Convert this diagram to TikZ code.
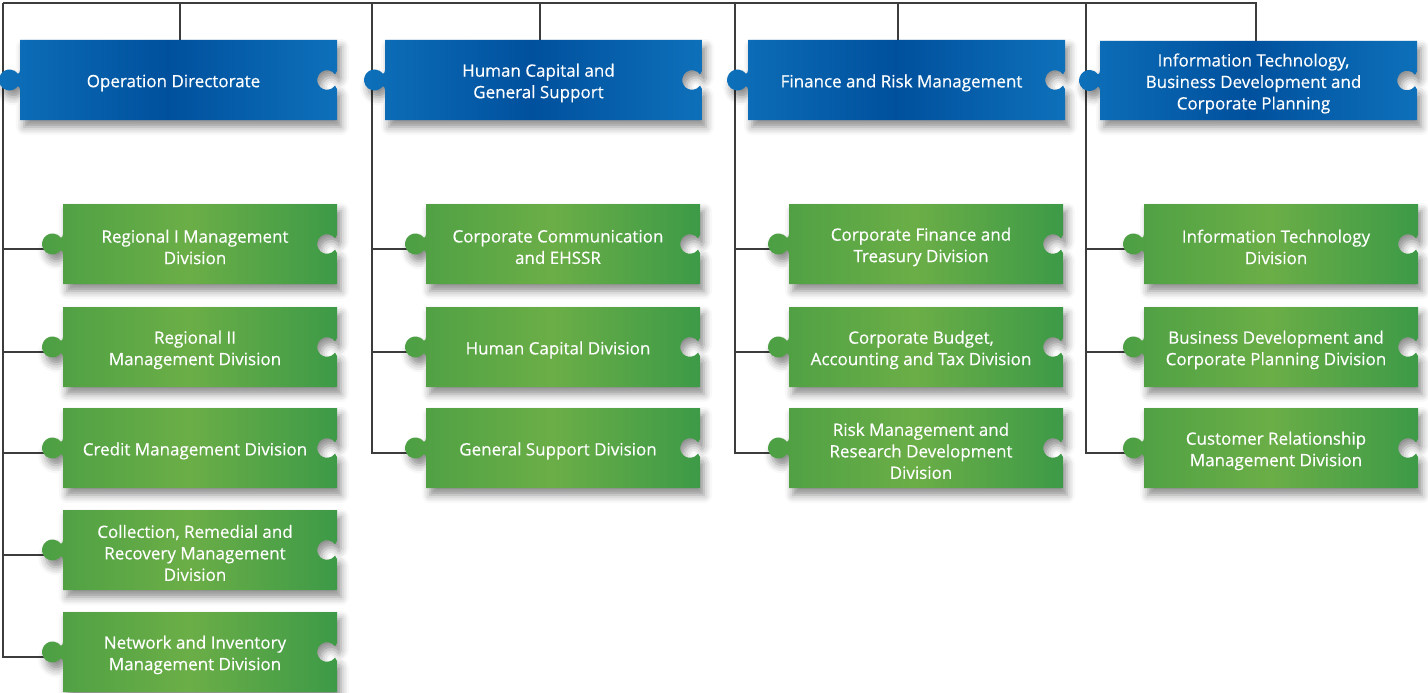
\documentclass[tikz,border=0pt]{standalone}
\usepackage{fontspec}
\setmainfont{Open Sans}
\newfontfamily\piecefont{Open Sans}[FakeBold=0.4]
\usetikzlibrary{shadows.blur}
\pgfdeclarelayer{background}
\pgfsetlayers{background,main}

\definecolor{linegray}{HTML}{3C3C3C}
\definecolor{blueedge}{HTML}{0E70BA}
\definecolor{bluemid}{HTML}{00509D}
\definecolor{greenleft}{HTML}{4C9F44}
\definecolor{greenmid}{HTML}{6BAE47}
\definecolor{greenright}{HTML}{3D9A47}

\tikzset{
  piecebase/.style={blur shadow={shadow xshift=4pt, shadow yshift=-7pt,
      shadow blur radius=8pt, shadow opacity=45}},
  bluepiece/.style={piecebase, left color=blueedge, right color=blueedge, middle color=bluemid},
  greenpiece/.style={piecebase, left color=greenleft, right color=greenright, middle color=greenmid},
  piecetext/.style={inner sep=0pt, align=center, text=white,
      font=\piecefont\fontsize{17}{21.5}\selectfont},
  link/.style={draw=linegray, line width=2pt},
}

% #1 name, #2 left, #3 top, #4 right, #5 bottom, #6 style, #7 text
% a round knob sticks out on the left, a round socket is cut into the right
\newcommand\puzzlepiece[7]{%
  \pgfmathsetmacro\pcy{(#3+#5)/2}%
  \path[#6] (#2,#3) -- (#4,#3) -- (#4,\pcy-9)
    .. controls ({#4-0.5},\pcy-6.5) .. ({#4-2},\pcy-5.66)
    arc[start angle=-35.3, end angle=-324.7, radius=9.8]
    .. controls ({#4-0.5},\pcy+6.5) .. (#4,\pcy+9)
    -- (#4,#5) -- (#2,#5) -- (#2,\pcy+10)
    .. controls ({#2-0.5},\pcy+7) .. ({#2-2},\pcy+6.17)
    arc[start angle=36, end angle=324, radius=10.5]
    .. controls ({#2-0.5},\pcy-7) .. (#2,\pcy-10)
    -- cycle;
  \node[piecetext, minimum width={#4-#2-10}, minimum height={#5-#3-6}]
    (#1) at ({(#2+#4)/2-5},\pcy+3) {#7};
}

\begin{document}
\begin{tikzpicture}[x=1pt, y=-1pt]
\useasboundingbox (0,0) rectangle (1428,693);

% directorates
\puzzlepiece{b1}{20}{40}{337}{120}{bluepiece}{Operation Directorate}
\puzzlepiece{b2}{385}{40}{702}{120}{bluepiece}{Human Capital and\\General Support}
\puzzlepiece{b3}{748}{40}{1065}{120}{bluepiece}{Finance and Risk Management}
\puzzlepiece{b4}{1100}{41}{1417}{120}{bluepiece}{Information Technology,\\Business Development and\\Corporate Planning}

% divisions, column 1
\puzzlepiece{g11}{63}{204}{337}{284}{greenpiece}{Regional I Management\\Division}
\puzzlepiece{g12}{63}{307}{337}{387}{greenpiece}{Regional II\\Management Division}
\puzzlepiece{g13}{63}{408}{337}{488}{greenpiece}{Credit Management Division}
\puzzlepiece{g14}{63}{510}{337}{590}{greenpiece}{Collection, Remedial and\\Recovery Management\\Division}
\puzzlepiece{g15}{63}{612}{337}{692}{greenpiece}{Network and Inventory\\Management Division}

% divisions, column 2
\puzzlepiece{g21}{426}{204}{700}{284}{greenpiece}{Corporate Communication\\and EHSSR}
\puzzlepiece{g22}{426}{307}{700}{387}{greenpiece}{Human Capital Division}
\puzzlepiece{g23}{426}{408}{700}{488}{greenpiece}{General Support Division}

% divisions, column 3
\puzzlepiece{g31}{789}{204}{1063}{284}{greenpiece}{Corporate Finance and\\Treasury Division}
\puzzlepiece{g32}{789}{307}{1063}{387}{greenpiece}{Corporate Budget,\\Accounting and Tax Division}
\puzzlepiece{g33}{789}{408}{1063}{488}{greenpiece}{Risk Management and\\Research Development\\Division}

% divisions, column 4
\puzzlepiece{g41}{1144}{204}{1418}{284}{greenpiece}{Information Technology\\Division}
\puzzlepiece{g42}{1144}{307}{1418}{387}{greenpiece}{Business Development and\\Corporate Planning Division}
\puzzlepiece{g43}{1144}{408}{1418}{488}{greenpiece}{Customer Relationship\\Management Division}

\begin{pgfonlayer}{background}
  % top bus and column spines
  \coordinate (s1) at (3,3);
  \coordinate (s2) at (372,3);
  \coordinate (s3) at (735,3);
  \coordinate (s4) at (1086,3);
  \draw[link] ([xshift=2.5pt]b4.north) |- (s1);
  \draw[link] ([xshift=6.5pt]b1.north) -- ([xshift=6.5pt]b1.north |- s1);
  \draw[link] ([xshift=1.5pt]b2.north) -- ([xshift=1.5pt]b2.north |- s1);
  \draw[link] ([xshift=-3.5pt]b3.north) -- ([xshift=-3.5pt]b3.north |- s1);
  \draw[link] (s1) |- ([yshift=-2pt]g15.west);
  \draw[link] (s2) |- ([yshift=-2pt]g23.west);
  \draw[link] (s3) |- ([yshift=-2pt]g33.west);
  \draw[link] (s4) |- ([yshift=-2pt]g43.west);
  % branches to divisions
  \foreach \g in {g11,g12,g13,g14}
    \draw[link] ([yshift=-2pt]s1 |- \g.west) -- ([yshift=-2pt]\g.west);
  \foreach \g in {g21,g22}
    \draw[link] ([yshift=-2pt]s2 |- \g.west) -- ([yshift=-2pt]\g.west);
  \foreach \g in {g31,g32}
    \draw[link] ([yshift=-2pt]s3 |- \g.west) -- ([yshift=-2pt]\g.west);
  \foreach \g in {g41,g42}
    \draw[link] ([yshift=-2pt]s4 |- \g.west) -- ([yshift=-2pt]\g.west);
\end{pgfonlayer}
\end{tikzpicture}
\end{document}
